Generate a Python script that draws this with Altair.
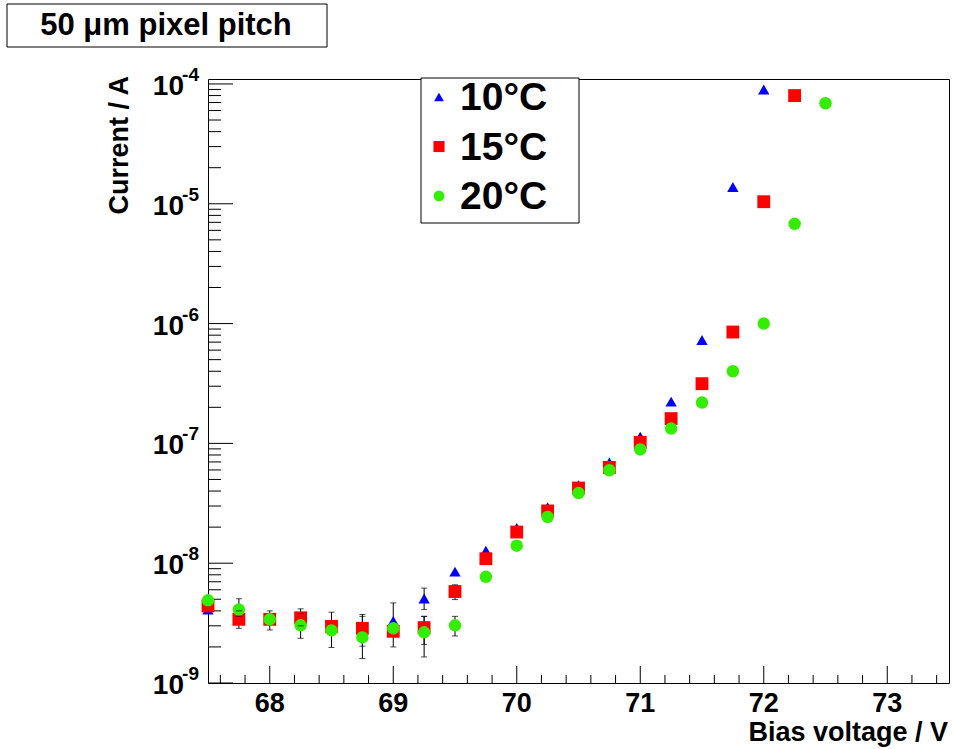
import altair as alt
import pandas as pd

# ---------------- data ----------------
V10 = [67.5, 67.75, 68.0, 68.25, 68.5, 68.75, 69.0, 69.25, 69.5, 69.75,
       70.0, 70.25, 70.5, 70.75, 71.0, 71.25, 71.5, 71.75, 72.0]
I10 = [4.1e-9, 3.4e-9, 3.4e-9, 3.3e-9, 2.9e-9, 3.0e-9, 3.3e-9, 5.07e-9, 8.5e-9, 1.27e-8,
       1.97e-8, 2.94e-8, 4.48e-8, 6.95e-8, 1.14e-7, 2.23e-7, 7.3e-7, 1.38e-5, 9.0e-5]

V15 = [67.5, 67.75, 68.0, 68.25, 68.5, 68.75, 69.0, 69.25, 69.5, 69.75,
       70.0, 70.25, 70.5, 70.75, 71.0, 71.25, 71.5, 71.75, 72.0, 72.25]
I15 = [4.4e-9, 3.4e-9, 3.4e-9, 3.5e-9, 2.97e-9, 2.86e-9, 2.7e-9, 2.9e-9, 5.8e-9, 1.09e-8,
       1.82e-8, 2.73e-8, 4.24e-8, 6.3e-8, 1.02e-7, 1.61e-7, 3.15e-7, 8.5e-7, 1.04e-5, 8.0e-5]

V20 = [67.5, 67.75, 68.0, 68.25, 68.5, 68.75, 69.0, 69.25, 69.5, 69.75,
       70.0, 70.25, 70.5, 70.75, 71.0, 71.25, 71.5, 71.75, 72.0, 72.25, 72.5]
I20 = [4.9e-9, 4.1e-9, 3.4e-9, 3.03e-9, 2.75e-9, 2.4e-9, 2.86e-9, 2.65e-9, 3.03e-9, 7.7e-9,
       1.4e-8, 2.43e-8, 3.85e-8, 5.97e-8, 8.9e-8, 1.33e-7, 2.19e-7, 4.0e-7, 1.0e-6, 6.8e-6, 6.9e-5]

# visible error bars (voltage, low, high)
ERR_V = [67.75, 67.75, 68.0, 68.25, 68.25, 68.5, 68.75, 68.75, 69.0, 69.25, 69.25, 69.25, 69.5, 69.5]
ERR_LO = [2.86e-9, 3.6e-9, 2.77e-9, 3.0e-9, 2.36e-9, 1.98e-9, 2.03e-9, 1.6e-9, 2.0e-9,
          4.1e-9, 2.1e-9, 1.65e-9, 4.97e-9, 2.47e-9]
ERR_HI = [4.0e-9, 5.05e-9, 4.0e-9, 4.16e-9, 3.8e-9, 3.9e-9, 3.6e-9, 3.73e-9, 4.66e-9,
          6.2e-9, 3.6e-9, 3.6e-9, 6.6e-9, 3.6e-9]

SERIES = ["10°C", "15°C", "20°C"]
COLORS = ["#0000ff", "#ff0000", "#33ee00"]
SHAPES = ["triangle-up", "square", "circle"]
SIZES = [130, 165, 155]

X_MAJOR = [68, 69, 70, 71, 72, 73]
X_LABELS = ["68", "69", "70", "71", "72", "73"]
X_MINOR = [67.6, 67.8, 68.2, 68.4, 68.6, 68.8, 69.2, 69.4, 69.6, 69.8,
           70.2, 70.4, 70.6, 70.8, 71.2, 71.4, 71.6, 71.8, 72.2, 72.4, 72.6, 72.8,
           73.2, 73.4]
Y_MAJOR = [1e-9, 1e-8, 1e-7, 1e-6, 1e-5, 1e-4]
Y_EXP = ["-9", "-8", "-7", "-6", "-5", "-4"]
MANT = [2, 3, 4, 5, 6, 7, 8, 9]
Y_MINOR = [m * d for d in [1e-9, 1e-8, 1e-7, 1e-6, 1e-5] for m in MANT]

TITLE = "50 \u03bcm pixel pitch"

# ---------------- layout ----------------
W, H = 741, 604
FONT = "Liberation Sans"

xs = alt.Scale(domain=[67.5, 73.5], nice=False, zero=False)
ys = alt.Scale(type="log", domain=[1e-9, 1.1e-4], nice=False)

X = lambda f="V": alt.X(f"{f}:Q", scale=xs, axis=None)
Y = lambda f="I": alt.Y(f"{f}:Q", scale=ys, axis=None)

layers = []

# y ticks (inside, left)
df_ymaj = pd.DataFrame({"I": Y_MAJOR, "e": Y_EXP, "b": ["10"] * len(Y_MAJOR)})
df_ymin = pd.DataFrame({"I": Y_MINOR})
layers.append(alt.Chart(df_ymaj).mark_rule(color="black", strokeWidth=1).encode(
    y=Y(), x=alt.value(0), x2=alt.value(25)))
layers.append(alt.Chart(df_ymin).mark_rule(color="black", strokeWidth=1).encode(
    y=Y(), x=alt.value(0), x2=alt.value(13)))

# x ticks (inside, bottom)
df_xmaj = pd.DataFrame({"V": X_MAJOR, "t": X_LABELS})
df_xmin = pd.DataFrame({"V": X_MINOR})
layers.append(alt.Chart(df_xmaj).mark_rule(color="black", strokeWidth=1).encode(
    x=X(), y=alt.value(H - 17), y2=alt.value(H)))
layers.append(alt.Chart(df_xmin).mark_rule(color="black", strokeWidth=1).encode(
    x=X(), y=alt.value(H - 8), y2=alt.value(H)))

# tick labels
layers.append(alt.Chart(df_xmaj).mark_text(font=FONT, fontWeight="bold", fontSize=27,
                                           baseline="middle", align="center").encode(
    x=X(), y=alt.value(H + 21), text="t:N"))
layers.append(alt.Chart(df_ymaj).mark_text(font=FONT, fontWeight="bold", fontSize=28,
                                           baseline="middle", align="right", dy=3).encode(
    y=Y(), x=alt.value(-24), text="b:N"))
layers.append(alt.Chart(df_ymaj).mark_text(font=FONT, fontWeight="bold", fontSize=19,
                                           baseline="middle", align="right", dy=-9).encode(
    y=Y(), x=alt.value(-9), text="e:N"))

# error bars
df_err = pd.DataFrame({"V": ERR_V, "lo": ERR_LO, "hi": ERR_HI})
layers.append(alt.Chart(df_err).mark_rule(color="black", strokeWidth=1).encode(
    x=X(), y=Y("lo"), y2="hi:Q"))

# data points
for v, i, name, c, s, sz in zip([V10, V15, V20], [I10, I15, I20], SERIES, COLORS, SHAPES, SIZES):
    df = pd.DataFrame({"V": v, "I": i})
    layers.append(alt.Chart(df).mark_point(filled=True, opacity=1, color=c, shape=s,
                                           size=sz, strokeWidth=0).encode(x=X(), y=Y()))

# error bar caps (drawn on top)
layers.append(alt.Chart(df_err).mark_tick(orient="horizontal", color="black", size=6,
                                          thickness=1).encode(x=X(), y=Y("lo")))
layers.append(alt.Chart(df_err).mark_tick(orient="horizontal", color="black", size=6,
                                          thickness=1).encode(x=X(), y=Y("hi")))

# legend box
one = pd.DataFrame({"k": [0]})
layers.append(alt.Chart(one).mark_rect(fill="white", stroke="black", strokeWidth=1).encode(
    x=alt.value(213), x2=alt.value(371), y=alt.value(-1), y2=alt.value(144)))
for k, (name, c, s, sz) in enumerate(zip(SERIES, COLORS, SHAPES, SIZES)):
    dl = pd.DataFrame({"label": [name]})
    yy = 18 + 49.5 * k
    layers.append(alt.Chart(dl).mark_point(filled=True, opacity=1, color=c, shape=s,
                                           size=sz * 0.75, strokeWidth=0).encode(
        x=alt.value(231), y=alt.value(yy)))
    layers.append(alt.Chart(dl).mark_text(font=FONT, fontWeight="bold", fontSize=39,
                                          align="left", baseline="middle").encode(
        x=alt.value(252), y=alt.value(yy + 1), text="label:N"))

# title box
dt = pd.DataFrame({"t": [TITLE]})
layers.append(alt.Chart(dt).mark_rect(fill="white", stroke="black", strokeWidth=1).encode(
    x=alt.value(-201), x2=alt.value(119), y=alt.value(-75), y2=alt.value(-32)))
layers.append(alt.Chart(dt).mark_text(font=FONT, fontWeight="bold", fontSize=31,
                                      align="center", baseline="middle").encode(
    x=alt.value(-42), y=alt.value(-53), text="t:N"))

# axis titles
da = pd.DataFrame({"t": ["Current / A"]})
layers.append(alt.Chart(da).mark_text(font=FONT, fontWeight="bold", fontSize=27,
                                      align="right", baseline="middle", angle=270).encode(
    x=alt.value(-88), y=alt.value(-3), text="t:N"))
db = pd.DataFrame({"t": ["Bias voltage / V"]})
layers.append(alt.Chart(db).mark_text(font=FONT, fontWeight="bold", fontSize=27,
                                      align="right", baseline="middle").encode(
    x=alt.value(740), y=alt.value(H + 50), text="t:N"))

chart = alt.layer(*layers).properties(
    width=W, height=H,
    autosize=alt.AutoSizeParams(type="none"),
    padding={"left": 208, "top": 79, "right": 4, "bottom": 66},
    background="white",
).configure_view(stroke="black", strokeWidth=1)

chart.save("out.html", embed_options={"renderer": "svg", "actions": False})
